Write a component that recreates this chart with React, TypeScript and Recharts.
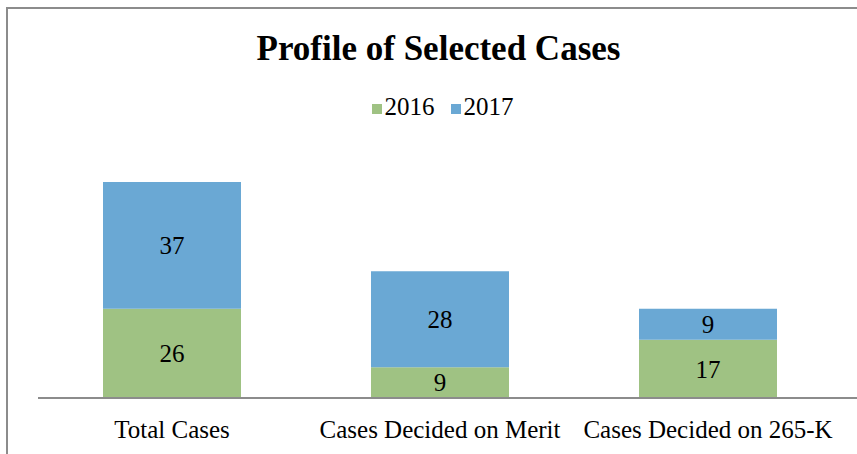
import { BarChart, Bar, XAxis, YAxis, Legend, LabelList } from 'recharts';

const categories = ['Total Cases', 'Cases Decided on Merit', 'Cases Decided on 265-K'];
const values2016 = [26, 9, 17];
const values2017 = [37, 28, 9];

const data = categories.map((name, i) => ({
  name,
  y2016: values2016[i],
  y2017: values2017[i],
}));

const FONT = '"Liberation Serif", "Times New Roman", serif';

export default function App() {
  return (
    <div
      style={{
        position: 'fixed',
        left: 0,
        top: 0,
        width: 857,
        height: 454,
        overflow: 'hidden',
        background: '#fff',
        fontFamily: FONT,
      }}
    >
      {/* chart frame, right and bottom edges fall outside the picture */}
      <div
        style={{
          position: 'absolute',
          left: 6,
          top: 7,
          width: 900,
          height: 500,
          border: '2px solid #8c8c8c',
          boxSizing: 'border-box',
        }}
      />
      <div
        style={{
          position: 'absolute',
          left: 10,
          top: 31,
          width: 857,
          textAlign: 'center',
          fontSize: 35,
          lineHeight: '35px',
          fontWeight: 'bold',
          color: '#000',
        }}
      >
        Profile of Selected Cases
      </div>
      <div style={{ position: 'absolute', left: 0, top: 0 }}>
        <BarChart
          width={857}
          height={454}
          data={data}
          margin={{ top: 130, right: 0, left: 38, bottom: 26 }}
        >
          <XAxis
            dataKey="name"
            padding={{ left: 0, right: 15 }}
            tickLine={false}
            tickMargin={16}
            axisLine={{ stroke: '#8c8c8c', strokeWidth: 2 }}
            tick={{ fill: '#000', fontSize: 25, fontFamily: FONT }}
            interval={0}
          />
          <YAxis hide domain={[0, 70]} />
          <Legend
            verticalAlign="top"
            align="center"
            iconType="square"
            iconSize={10}
            wrapperStyle={{ top: 93, fontFamily: FONT, fontSize: 25 }}
            formatter={(value) => (
              <span style={{ color: '#000', marginLeft: -1, marginRight: value === '2016' ? 6 : 0 }}>{value}</span>
            )}
          />
          <Bar dataKey="y2016" name="2016" stackId="a" fill="#9FC283" barSize={138} isAnimationActive={false}>
            <LabelList dataKey="y2016" position="center" fill="#000" fontSize={25} fontFamily={FONT} />
          </Bar>
          <Bar dataKey="y2017" name="2017" stackId="a" fill="#6AA8D4" barSize={138} isAnimationActive={false}>
            <LabelList dataKey="y2017" position="center" fill="#000" fontSize={25} fontFamily={FONT} />
          </Bar>
        </BarChart>
      </div>
    </div>
  );
}
